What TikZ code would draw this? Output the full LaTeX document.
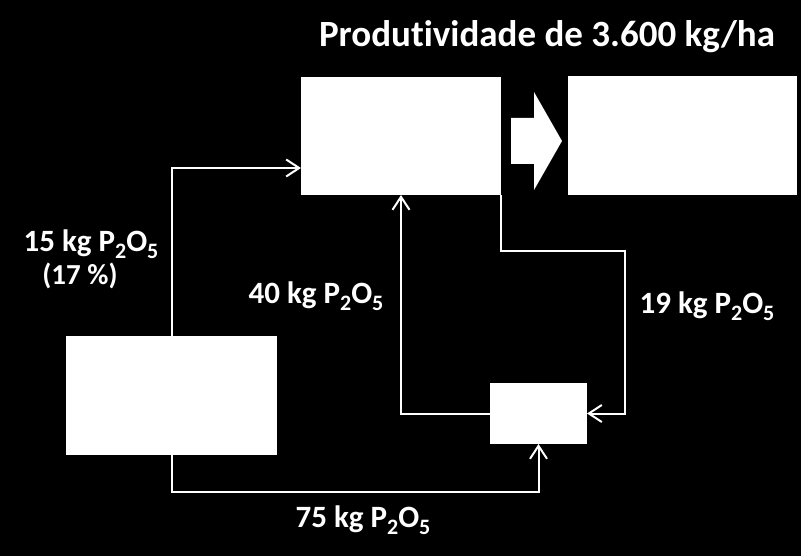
\documentclass[tikz,border=0pt]{standalone}
\usepackage{fontspec}
\setmainfont{Carlito}[Ligatures=NoCommon]
\usetikzlibrary{arrows.meta}
\tikzset{
  box/.style={fill=white, draw=none, inner sep=0pt, outer sep=0pt},
  conn/.style={draw=white, line width=2pt, -{Straight Barb[length=13pt,width=17pt,line width=2pt]}},
  lbl/.style={text=white, font=\fontsize{31}{34}\selectfont\bfseries, anchor=base, inner sep=0pt},
  ttl/.style={text=white, font=\fontsize{37}{42}\selectfont\bfseries, anchor=base, inner sep=0pt}
}
\newcommand{\subdig}[1]{\raisebox{-7pt}{\fontsize{22}{22}\selectfont\bfseries #1}}
\newcommand{\ptwo}{P\subdig{2}O\subdig{5}}
\begin{document}
\begin{tikzpicture}[x=1pt,y=-1pt]
\fill[black] (0,0) rectangle (801,556);
\useasboundingbox (0,0) rectangle (801,556);
% boxes
\node[box, minimum width=200pt, minimum height=118pt] (A) at (401,136) {};
\node[box, minimum width=229pt, minimum height=119pt] (B) at (682.5,136) {};
\node[box, minimum width=211pt, minimum height=119pt] (C) at (171.5,395.5) {};
\node[box, minimum width=97pt, minimum height=61pt] (D) at (538.5,413.5) {};
% block arrow
\fill[white] (511,118) -- (534,118) -- (534,92) -- (562,141) -- (534,190) -- (534,164) -- (511,164) -- cycle;
% connectors
\draw[conn] (C.north) |- (A.west |- 0,168);
\draw[conn] (C.south) -- ++(0,37) -| (D.south);
\draw[conn] (D.west) -| (A.south);
\draw[conn] (A.south east) |- ++(124,56) |- (D.east);
% labels
\node[ttl] (title) at (547,47) {Produtividade de 3.600 kg/ha};
\node[lbl] (l15) at (91,252) {15 kg \ptwo};
\node[lbl, font=\fontsize{29}{32}\selectfont\bfseries] (l17) at (80,285) {(17 \%)};
\node[lbl] (l40) at (316,303) {40 kg \ptwo};
\node[lbl] (l19) at (707,313) {19 kg \ptwo};
\node[lbl] (l75) at (363,527) {75 kg \ptwo};
\end{tikzpicture}
\end{document}
